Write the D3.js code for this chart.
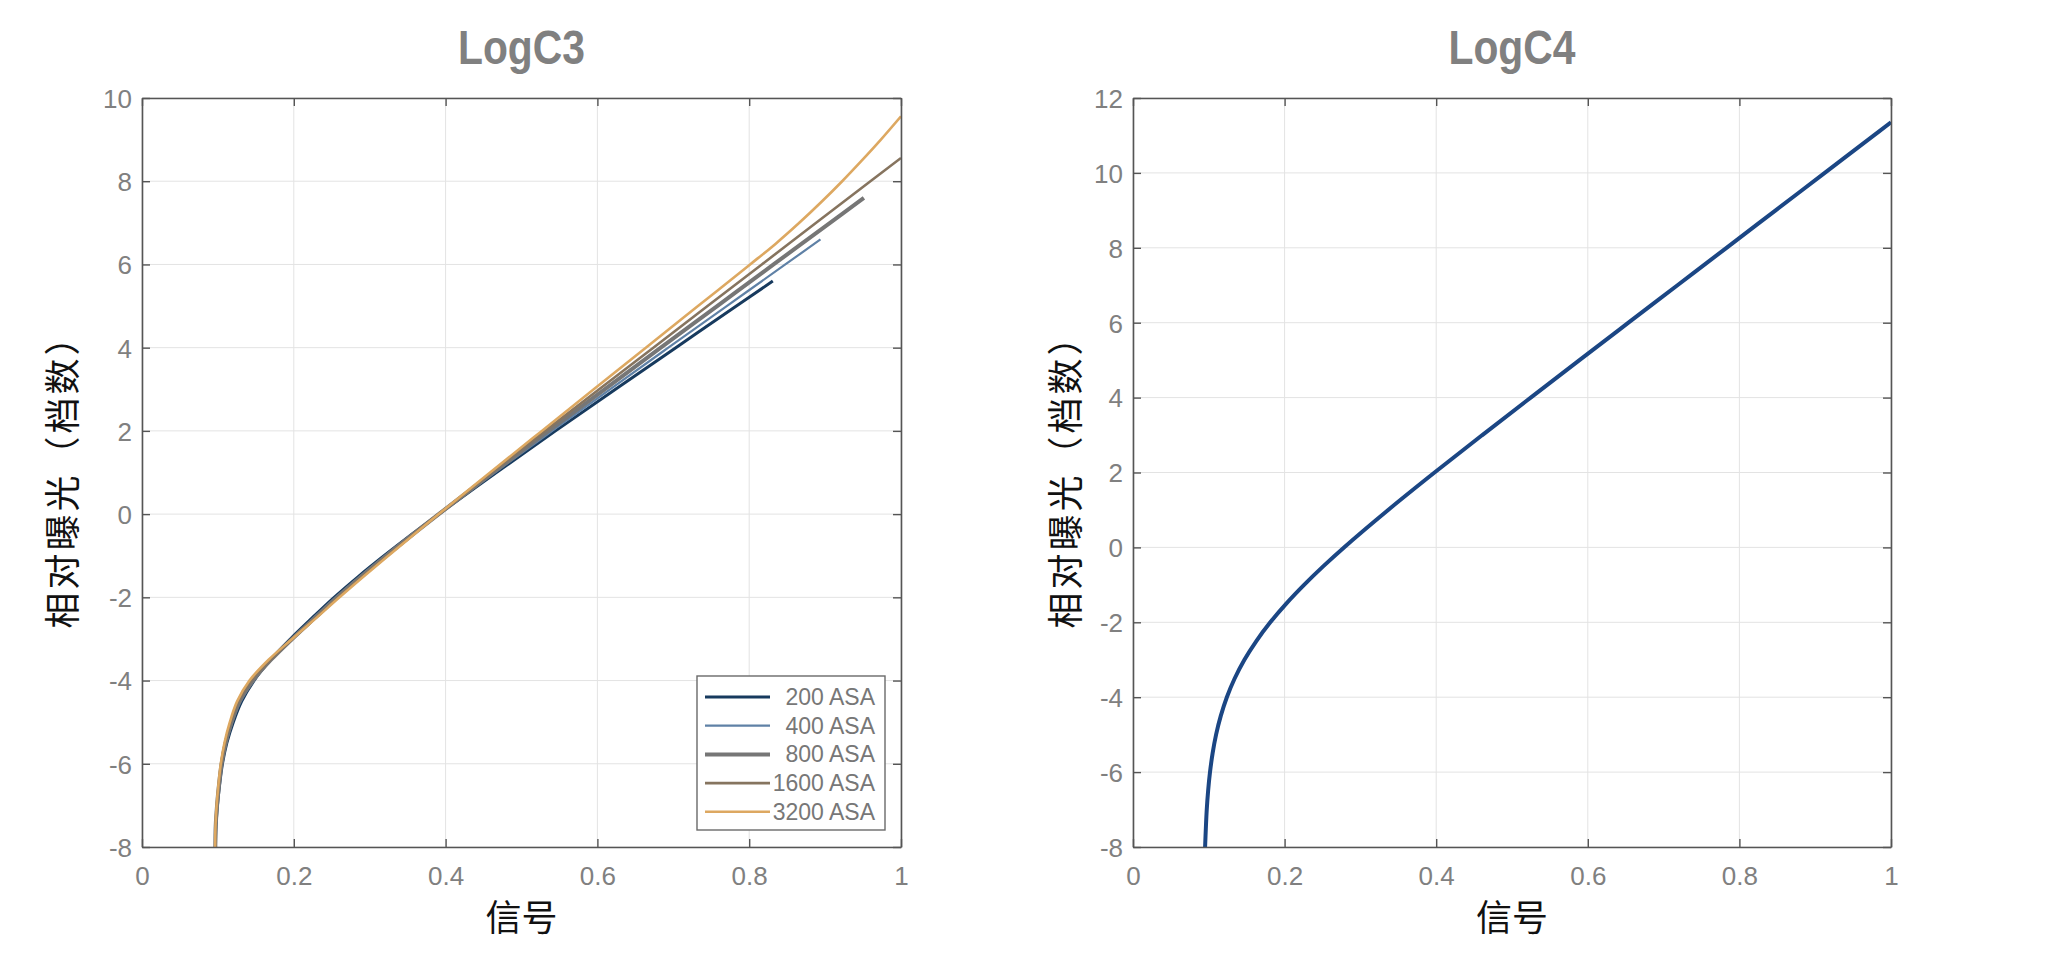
<!DOCTYPE html>
<html>
<head>
<meta charset="utf-8">
<script src="https://cdn.jsdelivr.net/npm/d3@7"></script>
<style>
  html, body { margin: 0; padding: 0; background: #ffffff; }
  svg { display: block; }
</style>
</head>
<body>
<svg id="chart" width="2048" height="956"></svg>
<script>
// ---------------- DATA ----------------
const xTicks = [0, 0.2, 0.4, 0.6, 0.8, 1];
const xTickLabels = ["0", "0.2", "0.4", "0.6", "0.8", "1"];
const yTicksLogC3 = [-8, -6, -4, -2, 0, 2, 4, 6, 8, 10];
const yTicksLogC4 = [-8, -6, -4, -2, 0, 2, 4, 6, 8, 10, 12];

const titles = ["LogC3", "LogC4"];
const xAxisLabel = "信号";
const yAxisLabel = "相对曝光（档数）";

const legendLabels = ["200 ASA", "400 ASA", "800 ASA", "1600 ASA", "3200 ASA"];

// [signal, relative exposure (stops)]
const asa200 = [[0.0968,-8],[0.0975,-7.5],[0.0994,-7],[0.1023,-6.5],[0.1060,-6],[0.1118,-5.5],[0.1203,-5],[0.1313,-4.5],[0.1476,-4],[0.1693,-3.5],[0.1955,-3],[0.2239,-2.5],[0.2532,-2],[0.2850,-1.5],[0.3189,-1],[0.3543,-0.5],[0.3910,0],[0.4669,1],[0.5448,2],[0.6238,3],[0.7033,4],[0.7831,5],[0.8311,5.6]];
const asa400 = [[0.0967,-8],[0.0973,-7.5],[0.0991,-7],[0.1019,-6.5],[0.1055,-6],[0.1110,-5.5],[0.1191,-5],[0.1301,-4.5],[0.1474,-4],[0.1700,-3.5],[0.1969,-3],[0.2257,-2.5],[0.2552,-2],[0.2869,-1.5],[0.3204,-1],[0.3552,-0.5],[0.3910,0],[0.4648,1],[0.5403,2],[0.6166,3],[0.6934,4],[0.7704,5],[0.8476,6],[0.8939,6.6]];
const asa800 = [[0.0966,-8],[0.0971,-7.5],[0.0989,-7],[0.1015,-6.5],[0.1049,-6],[0.1102,-5.5],[0.1180,-5],[0.1285,-4.5],[0.1461,-4],[0.1700,-3.5],[0.1978,-3],[0.2273,-2.5],[0.2571,-2],[0.2887,-1.5],[0.3218,-1],[0.3560,-0.5],[0.3910,0],[0.4627,1],[0.5358,2],[0.6095,3],[0.6835,4],[0.7578,5],[0.8321,6],[0.9065,7],[0.9511,7.6]];
const asa1600 = [[0.0965,-8],[0.0970,-7.5],[0.0986,-7],[0.1011,-6.5],[0.1043,-6],[0.1094,-5.5],[0.1169,-5],[0.1269,-4.5],[0.1439,-4],[0.1690,-3.5],[0.1982,-3],[0.2286,-2.5],[0.2588,-2],[0.2904,-1.5],[0.3232,-1],[0.3568,-0.5],[0.3910,0],[0.4606,1],[0.5312,2],[0.6023,3],[0.6737,4],[0.7451,5],[0.8166,6],[0.8882,7],[0.9597,8],[1.0,8.56]];
const asa3200 = [[0.0963,-8],[0.0968,-7.5],[0.0983,-7],[0.1007,-6.5],[0.1038,-6],[0.1086,-5.5],[0.1157,-5],[0.1253,-4.5],[0.1416,-4],[0.1668,-3.5],[0.1978,-3],[0.2294,-2.5],[0.2602,-2],[0.2920,-1.5],[0.3246,-1],[0.3576,-0.5],[0.3910,0],[0.4586,1],[0.5268,2],[0.5952,3],[0.6638,4],[0.7325,5],[0.8012,6],[0.8350,6.5],[0.8660,7],[0.8950,7.5],[0.9225,8],[0.9485,8.5],[0.9735,9],[1.0,9.56]];

const logC4 = [[0.0951,-8],[0.0961,-7.5],[0.0973,-7],[0.0991,-6.5],[0.1016,-6],[0.1050,-5.5],[0.1096,-5],[0.1158,-4.5],[0.1238,-4],[0.1341,-3.5],[0.1470,-3],[0.1627,-2.5],[0.1811,-2],[0.2022,-1.5],[0.2257,-1],[0.2512,-0.5],[0.2784,0],[0.3366,1],[0.3978,2],[0.4608,3],[0.5247,4],[0.5890,5],[0.6536,6],[0.7183,7],[0.7830,8],[0.8478,9],[0.9126,10],[0.9774,11],[1.0,11.35]];

// ---------------- STYLE ----------------
const seriesColors = ["#173a5e", "#5f81a6", "#767676", "#86745f", "#dda861"];
const seriesWidths = [3, 2.2, 4, 2.6, 2.6];
const tickFont = "'Liberation Sans', Arial, sans-serif";
const cjkFont = "'Noto Sans CJK SC', 'Noto Sans', sans-serif";
const greyText = "#808080";
const frameColor = "#555555";
const gridColor = "#e3e3e3";

const svg = d3.select("#chart");

function drawPanel(cfg) {
  const x = d3.scaleLinear().domain([0, 1]).range([cfg.left, cfg.right]);
  const y = d3.scaleLinear().domain(cfg.yDomain).range([cfg.bottom, cfg.top]);
  const g = svg.append("g");

  // grid
  g.append("g").selectAll("line").data(xTicks).join("line")
    .attr("x1", d => x(d)).attr("x2", d => x(d))
    .attr("y1", cfg.top).attr("y2", cfg.bottom)
    .attr("stroke", gridColor).attr("stroke-width", 1);
  g.append("g").selectAll("line").data(cfg.yTicks).join("line")
    .attr("x1", cfg.left).attr("x2", cfg.right)
    .attr("y1", d => y(d)).attr("y2", d => y(d))
    .attr("stroke", gridColor).attr("stroke-width", 1);

  // clip
  const clipId = "clip" + cfg.id;
  svg.append("clipPath").attr("id", clipId).append("rect")
    .attr("x", cfg.left).attr("y", cfg.top)
    .attr("width", cfg.right - cfg.left).attr("height", cfg.bottom - cfg.top);

  const line = d3.line()
    .x(d => x(d[0])).y(d => y(d[1]))
    .curve(d3.curveCatmullRom.alpha(0.5));

  const cg = g.append("g").attr("clip-path", `url(#${clipId})`);
  cg.selectAll("path").data(cfg.series).join("path")
    .attr("d", d => line(d.values))
    .attr("fill", "none")
    .attr("stroke", d => d.color)
    .attr("stroke-width", d => d.width)
    .attr("stroke-linejoin", "round")
    .attr("stroke-linecap", "butt");

  // axes (ticks inside, MATLAB style)
  const axB = d3.axisBottom(x).tickValues(xTicks).tickFormat((d, i) => xTickLabels[i])
    .tickSizeInner(-8).tickSizeOuter(0).tickPadding(20);
  const axT = d3.axisTop(x).tickValues(xTicks).tickFormat("").tickSizeInner(-8).tickSizeOuter(0);
  const axL = d3.axisLeft(y).tickValues(cfg.yTicks).tickFormat(d => String(d))
    .tickSizeInner(-8).tickSizeOuter(0).tickPadding(10);
  const axR = d3.axisRight(y).tickValues(cfg.yTicks).tickFormat("").tickSizeInner(-8).tickSizeOuter(0);

  const styleAxis = sel => {
    sel.attr("font-family", tickFont).attr("font-size", 26);
    sel.selectAll("path.domain").attr("stroke", frameColor).attr("stroke-width", 1.6);
    sel.selectAll(".tick line").attr("stroke", frameColor).attr("stroke-width", 1.4);
    sel.selectAll(".tick text").attr("fill", greyText);
  };
  g.append("g").attr("transform", `translate(0,${cfg.bottom})`).call(axB).call(styleAxis);
  g.append("g").attr("transform", `translate(0,${cfg.top})`).call(axT).call(styleAxis);
  g.append("g").attr("transform", `translate(${cfg.left},0)`).call(axL).call(styleAxis)
    .selectAll(".tick text").attr("dy", "0.36em");
  g.append("g").attr("transform", `translate(${cfg.right},0)`).call(axR).call(styleAxis);

  // title
  g.append("text")
    .attr("x", (cfg.left + cfg.right) / 2).attr("y", 64)
    .attr("text-anchor", "middle")
    .attr("font-family", "'Liberation Sans', Arial, sans-serif")
    .attr("font-weight", "bold").attr("font-size", 49)
    .attr("fill", "#808080")
    .attr("textLength", 127).attr("lengthAdjust", "spacingAndGlyphs")
    .text(cfg.title);

  // x label
  g.append("text")
    .attr("x", (cfg.left + cfg.right) / 2).attr("y", 931)
    .attr("text-anchor", "middle")
    .attr("font-family", cjkFont).attr("font-size", 36)
    .attr("fill", "#111111")
    .text(xAxisLabel);

  // y label
  g.append("text")
    .attr("transform", `translate(${cfg.yLabelX},${(cfg.top + cfg.bottom) / 2}) rotate(-90)`)
    .attr("text-anchor", "middle")
    .attr("dominant-baseline", "central")
    .attr("font-family", cjkFont).attr("font-size", 36)
    .attr("letter-spacing", 3)
    .attr("fill", "#111111")
    .text(yAxisLabel);

  return { x, y, g };
}

const c3Series = [asa200, asa400, asa800, asa1600, asa3200].map((v, i) => ({
  name: legendLabels[i], values: v, color: seriesColors[i], width: seriesWidths[i]
}));

drawPanel({
  id: "L", left: 142, right: 901, top: 98, bottom: 847,
  yDomain: [-8, 10], yTicks: yTicksLogC3, title: titles[0], yLabelX: 60,
  series: c3Series
});

drawPanel({
  id: "R", left: 1133, right: 1891, top: 98, bottom: 847,
  yDomain: [-8, 12], yTicks: yTicksLogC4, title: titles[1], yLabelX: 1063,
  series: [{ name: "LogC4", values: logC4, color: "#1b4684", width: 4 }]
});

// legend
const lg = svg.append("g");
lg.append("rect")
  .attr("x", 697).attr("y", 676).attr("width", 188).attr("height", 154)
  .attr("fill", "#ffffff").attr("stroke", "#6a6a6a").attr("stroke-width", 1.4);
const rows = lg.selectAll("g").data(c3Series).join("g")
  .attr("transform", (d, i) => `translate(0,${697 + i * 28.7})`);
rows.append("line")
  .attr("x1", 705).attr("x2", 770).attr("y1", 0).attr("y2", 0)
  .attr("stroke", d => d.color).attr("stroke-width", d => d.width);
rows.append("text")
  .attr("x", 875).attr("y", 0)
  .attr("text-anchor", "end").attr("dominant-baseline", "central")
  .attr("font-family", tickFont).attr("font-size", 23)
  .attr("fill", "#777777")
  .text(d => d.name);
</script>
</body>
</html>
